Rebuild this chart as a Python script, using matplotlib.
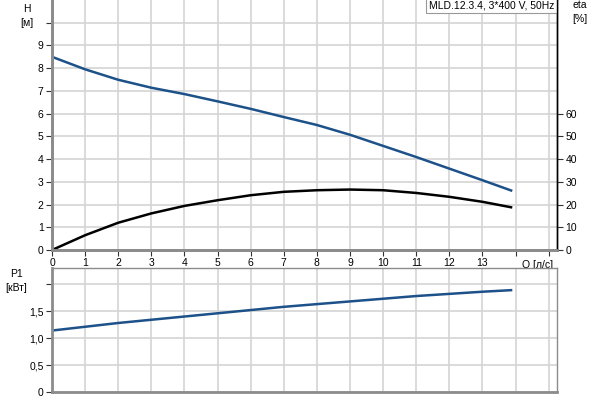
import matplotlib
matplotlib.use("Agg")
import matplotlib.pyplot as plt
import numpy as np

plt.rcParams['font.family'] = ['Liberation Sans', 'DejaVu Sans']
plt.rcParams['font.size'] = 7.5

# values
q = [0, 1, 2, 3, 4, 5, 6, 7, 8, 9, 10, 11, 12, 13, 13.9]
head = [8.5, 7.95, 7.49, 7.14, 6.86, 6.54, 6.21, 5.85, 5.5, 5.07, 4.58, 4.09, 3.58, 3.07, 2.6]
eta = [0, 6.5, 12.0, 16.1, 19.4, 21.9, 24.1, 25.6, 26.3, 26.6, 26.3, 25.1, 23.4, 21.2, 18.7]
p1 = [1.14, 1.21, 1.28, 1.34, 1.40, 1.46, 1.52, 1.58, 1.63, 1.68, 1.73, 1.78, 1.82, 1.86, 1.89]

x_ticks = list(range(0, 16))
x_labels = [str(i) for i in range(14)] + ["", ""]
h_ticks = list(range(0, 11))
h_labels = [str(i) for i in range(10)] + [""]
eta_ticks = [0, 10, 20, 30, 40, 50, 60]
p_ticks = [0, 0.5, 1.0, 1.5, 2.0]
p_labels = ["0", "0,5", "1,0", "1,5", ""]
title = "MLD.12.3.4, 3*400 V, 50Hz"

grid_col = '#d4d4d4'
spine_gray = '#8c8c8c'
blue = '#1d5189'

fig = plt.figure(figsize=(6, 4), dpi=100)
ax = fig.add_axes([52/600, 1 - 250/400, 505/600, 250/400])
ax_p = fig.add_axes([52/600, 1 - 392/400, 505/600, 124/400])

# --- head / efficiency axes
ax.plot(q, head, color=blue, lw=1.8, solid_capstyle='butt')
ax.set_xlim(0, 15.25)
ax.set_ylim(0, 11)
ax.set_xticks(x_ticks)
ax.set_xticklabels(x_labels)
ax.set_yticks(h_ticks)
ax.set_yticklabels(h_labels)
ax.grid(True, color=grid_col, lw=1.2)
ax.set_axisbelow(True)

ax2 = ax.twinx()
ax2.plot(q, eta, color='black', lw=1.8, solid_capstyle='butt')
ax2.set_ylim(0, 110)
ax2.set_yticks(eta_ticks)

for a in (ax, ax2):
    a.spines['top'].set_visible(False)
    a.spines['left'].set_color(spine_gray)
    a.spines['left'].set_linewidth(2)
    a.spines['bottom'].set_color(spine_gray)
    a.spines['bottom'].set_linewidth(2)
    a.spines['right'].set_color('black')
    a.spines['right'].set_linewidth(1)
ax.tick_params(axis='both', direction='out', length=4, width=0.8, color='#333333', pad=2)
ax2.tick_params(axis='y', direction='out', length=4, width=0.8, color='#333333', pad=2)

ax.text(-0.05, 0.985, "H\n[м]", transform=ax.transAxes, ha='center', va='top', linespacing=1.5)
ax2.text(1.045, 1.0, "eta\n[%]", transform=ax.transAxes, ha='center', va='top', linespacing=1.5)
ax.text(14.65, -0.45, "Q [л/с]", ha='center', va='top')
ax.text(0.995, 0.998, title, transform=ax.transAxes, ha='right', va='top',
        bbox=dict(boxstyle='square,pad=0.25', fc='white', ec='#999999', lw=0.8), zorder=10)

# --- power axes
ax_p.plot(q, p1, color=blue, lw=1.8, solid_capstyle='butt')
ax_p.set_xlim(0, 15.25)
ax_p.set_ylim(0, 2.3)
ax_p.set_xticks(x_ticks)
ax_p.set_xticklabels([])
ax_p.set_yticks(p_ticks)
ax_p.set_yticklabels(p_labels)
ax_p.grid(True, color=grid_col, lw=1.2)
ax_p.set_axisbelow(True)
ax_p.tick_params(axis='x', length=0)
ax_p.tick_params(axis='y', direction='out', length=4, width=0.8, color='#333333', pad=2)
for s in ('left', 'bottom'):
    ax_p.spines[s].set_color(spine_gray)
    ax_p.spines[s].set_linewidth(2)
for s in ('top', 'right'):
    ax_p.spines[s].set_color(spine_gray)
    ax_p.spines[s].set_linewidth(1)
ax_p.text(-0.07, 0.99, "P1\n[кВт]", transform=ax_p.transAxes, ha='center', va='top', linespacing=1.5)

fig.savefig("out.png", dpi=100)
